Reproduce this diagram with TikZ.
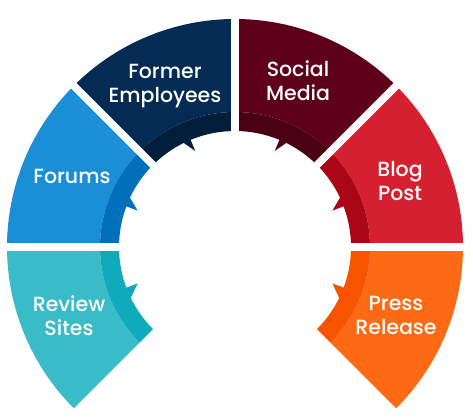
\documentclass[tikz,border=0pt]{standalone}
\usepackage{fontspec}
\setmainfont{Poppins}[UprightFont={* Medium}]
\usepackage{tikz}
\usetikzlibrary{positioning, calc}

\definecolor{pressMain}{HTML}{FD6A13}
\definecolor{pressBand}{HTML}{F85400}
\definecolor{blogMain}{HTML}{D4202F}
\definecolor{blogBand}{HTML}{AA0616}
\definecolor{socialMain}{HTML}{5E0019}
\definecolor{socialBand}{HTML}{4A0012}
\definecolor{formerMain}{HTML}{032B53}
\definecolor{formerBand}{HTML}{021E3A}
\definecolor{forumsMain}{HTML}{1A8FD6}
\definecolor{forumsBand}{HTML}{0170BB}
\definecolor{reviewMain}{HTML}{39BCC8}
\definecolor{reviewBand}{HTML}{10ABBB}

\begin{document}
\begin{tikzpicture}[
          x=1pt, y=1pt,
          label text/.style={text=white, font=\fontsize{20.5}{24}\selectfont, align=center},
          gap line/.style={draw=white, line width=7.5pt}
        ]
        \useasboundingbox (-235,-171) rectangle (238,247);
        % ring segments: start, end, colours, tooth angles
        \foreach \angA/\angB/\cmain/\cband/\tback/\tslope in {
            -45/0/pressMain/pressBand/-20.5/-26.5,
            0/45/blogMain/blogBand/20.5/25.5,
            45/90/socialMain/socialBand/67.5/63.5,
            90/135/formerMain/formerBand/112.5/116.5,
            135/180/forumsMain/forumsBand/159.5/154.5,
            180/225/reviewMain/reviewBand/200.5/206.5}{
          \fill[\cmain] (\angA:228) arc[start angle=\angA, end angle=\angB, radius=228]
            -- (\angB:135) arc[start angle=\angB, end angle=\angA, radius=135] -- cycle;
          \fill[\cband] (\angA:135) arc[start angle=\angA, end angle=\angB, radius=135]
            -- (\angB:116) arc[start angle=\angB, end angle=\angA, radius=116] -- cycle;
          \fill[\cband] (\tback:117) -- (\tback:104) -- (\tslope:117) -- cycle;
        }
        % white gaps
        \foreach \gap in {0,45,90,135,180}
          \draw[gap line] (\gap:100) -- (\gap:235);

        \node[label text] (former) at (-70,161) {Former\\Employees};
        \node[label text] (social) at (63,166) {Social\\Media};
        \node[label text] (forums) at (-163,71) {Forums};
        \node[label text] (blog) at (165,66) {Blog\\Post};
        \node[label text] (review) at (-166,-68.5) {Review\\Sites};
        \node[label text] (press) at (161,-68.5) {Press\\Release};
\end{tikzpicture}
\end{document}
